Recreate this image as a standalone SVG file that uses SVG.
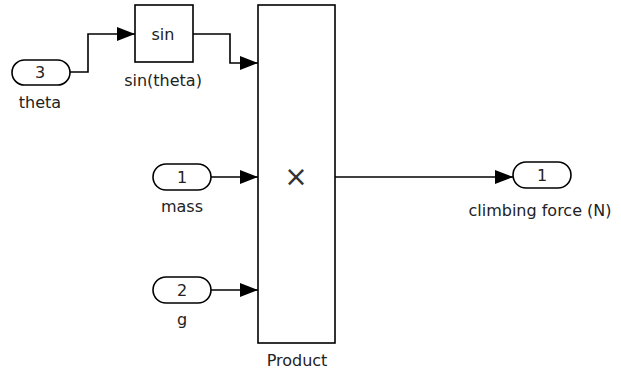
<svg xmlns="http://www.w3.org/2000/svg" width="621" height="372" viewBox="0 0 621 372">
<style>
.blk{fill:#fff;stroke:#000;stroke-width:1.6}
.port{fill:#fff;stroke:#000;stroke-width:1.6}
.ln{fill:none;stroke:#000;stroke-width:1.6}
.t{font-family:"DejaVu Sans","Liberation Sans",sans-serif;font-size:16px;fill:#222;text-anchor:middle}
.op{font-family:"DejaVu Sans","Liberation Sans",sans-serif;font-size:28px;fill:#333;text-anchor:middle}
</style>
<defs>
<marker id="ah" markerWidth="18" markerHeight="14" refX="18" refY="7" orient="auto" markerUnits="userSpaceOnUse">
<path d="M0,0 L18,7 L0,14 Z" fill="#000"/>
</marker>
</defs>
<rect width="621" height="372" fill="#fff"/>
<g id="connectors">
<path class="ln" d="M70,72 H88 V34 H135" marker-end="url(#ah)"/>
<path class="ln" d="M193,34 H230 V63 H258" marker-end="url(#ah)"/>
<path class="ln" d="M211,177 H258" marker-end="url(#ah)"/>
<path class="ln" d="M211,290 H258" marker-end="url(#ah)"/>
<path class="ln" d="M335,177 H513" marker-end="url(#ah)"/>
</g>
<g id="theta">
<rect class="port" x="12" y="60" width="58" height="25" rx="12.5"/>
<text class="t" x="40" y="78">3</text>
<text class="t" x="40" y="108">theta</text>
</g>
<g id="sin">
<rect class="blk" x="135" y="5" width="58" height="57"/>
<text class="t" x="163" y="40">sin</text>
<text class="t" x="163" y="86">sin(theta)</text>
</g>
<g id="mass">
<rect class="port" x="153" y="164" width="58" height="26" rx="13"/>
<text class="t" x="182" y="183">1</text>
<text class="t" x="182" y="212">mass</text>
</g>
<g id="g">
<rect class="port" x="153" y="277" width="58" height="26" rx="13"/>
<text class="t" x="182" y="296">2</text>
<text class="t" x="182" y="325">g</text>
</g>
<g id="product">
<rect class="blk" x="258" y="5" width="77" height="338"/>
<text class="op" x="296" y="186">×</text>
<text class="t" x="297" y="366">Product</text>
</g>
<g id="out">
<rect class="port" x="513" y="162" width="58" height="26" rx="13"/>
<text class="t" x="542" y="181">1</text>
<text class="t" x="540" y="216">climbing force (N)</text>
</g>
</svg>
